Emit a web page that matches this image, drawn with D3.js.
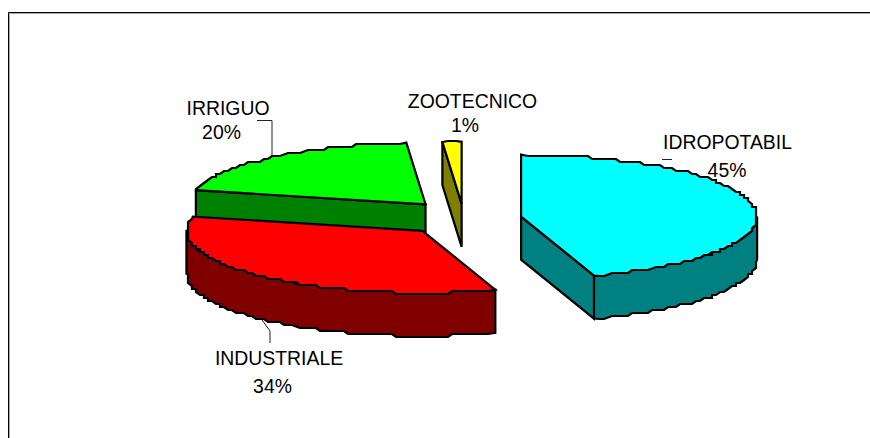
<!DOCTYPE html>
<html>
<head>
<meta charset="utf-8">
<script src="https://d3js.org/d3.v7.min.js"></script>
<style>
    html, body { margin: 0; padding: 0; background: #fff; }
    svg { display: block; }
    text { font-family: "Liberation Sans", Arial, sans-serif; font-size: 19.4px; fill: #000; }
</style>
</head>
<body>
<script>
const categories = ["IDROPOTABILE", "INDUSTRIALE", "IRRIGUO", "ZOOTECNICO"];
const values = [45, 33.7, 20, 1.3];
const percentLabels = ["45%", "34%", "20%", "1%"];
const topColors = ["#00ffff", "#ff0000", "#00ff00", "#ffff00"];
const sideColors = ["#008080", "#800000", "#008000", "#808000"];
const explodeX = [0.245, 0.26, 0.25, 0.245];
const explodeY = [0.245, 0.26, 0.31, 0.245];

const width = 870;
const height = 438;
const centre = { x: 464, y: 219 };
const radiusX = 236;
const radiusY = 62;
const depth = 43;
const jagX = 4;
const jagY = 3;

const svg = d3.select("body").append("svg")
    .attr("width", width)
    .attr("height", height);

// Frame, only top and left are drawn
const frame = [
    { d: "M8.5,438V12.5H870", color: "#000" },
    { d: "M9.5,438V13.5H870", color: "#aaa" }
];
frame.forEach(f => svg.append("path")
    .attr("d", f.d)
    .attr("fill", "none")
    .attr("stroke", f.color));

const pie = d3.pie().sort(null).value(d => d)(values);
const scaleX = d3.scaleLinear().domain([-1, 1]).range([-radiusX, radiusX]);
const scaleY = d3.scaleLinear().domain([-1, 1]).range([-radiusY, radiusY]);

const slices = pie.map((p, i) => {
    const mid = (p.startAngle + p.endAngle) / 2;
    return {
        index: i,
        start: p.startAngle,
        end: p.endAngle,
        cx: centre.x + explodeX[i] * scaleX(Math.sin(mid)),
        cy: centre.y + explodeY[i] * scaleY(-Math.cos(mid))
    };
});

const onRim = (s, a) => [s.cx + scaleX(Math.sin(a)), s.cy + scaleY(-Math.cos(a))];

// The old renderer stepped its arcs, so snap the rim to a coarse grid
const rimPoints = (s, from, to) => {
    const count = Math.max(1, Math.ceil((to - from) / (1.5 * Math.PI / 180)));
    const pts = d3.range(count + 1).map(k => {
        const pt = onRim(s, from + (to - from) * k / count);
        if (k === 0 || k === count) return pt;
        return [Math.round(pt[0] / jagX) * jagX, Math.round(pt[1] / jagY) * jagY];
    });
    return pts.filter((p, k) => k === 0 || p[0] !== pts[k - 1][0] || p[1] !== pts[k - 1][1]);
};

const line = d3.line();
const drop = pts => pts.map(p => [p[0], p[1] + depth]).reverse();

const drawPoly = (pts, fill) => svg.append("path")
    .attr("d", line(pts) + "Z")
    .attr("fill", fill)
    .attr("stroke", "#000")
    .attr("stroke-width", 2.2)
    .attr("stroke-linejoin", "miter");

const drawSlice = (s) => {
    const side = sideColors[s.index];
    // flat radial sides that face the viewer
    [s.start, s.end].forEach((a, k) => {
        const visible = k === 0 ? Math.sin(a) < -1e-6 : Math.sin(a) > 1e-6;
        if (!visible) return;
        const edge = [[s.cx, s.cy], onRim(s, a)];
        drawPoly(edge.concat(drop(edge)), side);
    });
    // outer wall, only the front half of the ellipse
    const from = Math.max(s.start, Math.PI / 2);
    const to = Math.min(s.end, Math.PI * 3 / 2);
    if (to > from) {
        const rim = rimPoints(s, from, to);
        drawPoly(rim.concat(drop(rim)), side);
    }
    // top face
    drawPoly([[s.cx, s.cy]].concat(rimPoints(s, s.start, s.end)), topColors[s.index]);
};

// Back to front
[2, 3, 0, 1].forEach(i => drawSlice(slices[i]));

// Leader lines
const leaders = [
    [[257, 120.5], [272, 120.5], [272, 156]],
    [[262, 320], [270, 331], [270, 343]],
    [[662, 159.5], [672, 159.5]]
];
leaders.forEach(pts => svg.append("path")
    .attr("d", line(pts))
    .attr("fill", "none")
    .attr("stroke", "#222")
    .attr("stroke-width", 1));

// Labels
const labelRows = [
    { i: 0, name: "IDROPOTABIL", x: 727.5, y: 149, px: 727, py: 177 },
    { i: 1, name: categories[1], x: 279, y: 365, px: 272.5, py: 393 },
    { i: 2, name: categories[2], x: 228, y: 115, px: 221.5, py: 139 },
    { i: 3, name: categories[3], x: 472.5, y: 108, px: 465, py: 132 }
];
labelRows.forEach(d => {
    svg.append("text").attr("x", d.x).attr("y", d.y)
        .attr("text-anchor", "middle").text(d.name);
    svg.append("text").attr("x", d.px).attr("y", d.py)
        .attr("text-anchor", "middle").text(percentLabels[d.i]);
});
</script>
</body>
</html>
